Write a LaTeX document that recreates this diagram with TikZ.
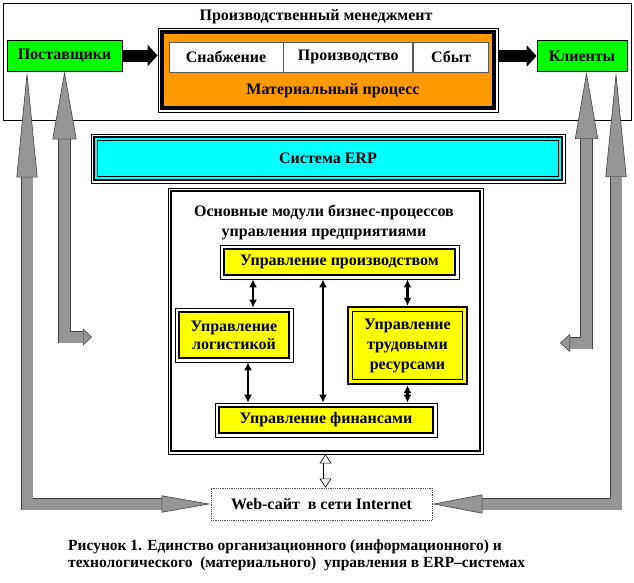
\documentclass[tikz,border=0pt]{standalone}
\usepackage{fontspec}
\setmainfont{Liberation Serif}
\usetikzlibrary{arrows.meta,positioning}
\definecolor{procorange}{RGB}{255,153,0}
\definecolor{erpcyan}{RGB}{0,255,255}
\definecolor{boxyellow}{RGB}{255,255,0}
\definecolor{boxgreen}{RGB}{0,255,0}
\definecolor{arrowgray}{RGB}{150,150,150}

\begin{document}
\begin{tikzpicture}[x=1pt,y=-1pt,font=\fontsize{16}{18}\selectfont\bfseries]
  \tikzset{dbl frame/.style n args={3}{draw,line width=0.8pt,fill=white,
      path picture={\draw[line width=#2,fill=#1]
        ([shift={(#3,-#3)}]path picture bounding box.north west) rectangle
        ([shift={(-#3,#3)}]path picture bounding box.south east);}},
    thick thin/.style={draw,line width=2.4pt,fill=boxyellow,
      path picture={\draw[line width=0.8pt]
        ([shift={(4.5pt,-4.5pt)}]path picture bounding box.north west) rectangle
        ([shift={(-4.5pt,4.5pt)}]path picture bounding box.south east);}},
    erp box/.style={draw,line width=0.8pt,fill=white,
      path picture={\draw[line width=2.4pt,fill=erpcyan]
          ([shift={(3.2pt,-3.2pt)}]path picture bounding box.north west) rectangle
          ([shift={(-3.2pt,3.2pt)}]path picture bounding box.south east);
        \draw[line width=0.8pt]
          ([shift={(6.6pt,-6.6pt)}]path picture bounding box.north west) rectangle
          ([shift={(-6.6pt,6.6pt)}]path picture bounding box.south east);}},
    green box/.style={draw,line width=0.8pt,fill=boxgreen,minimum height=31pt},
    white box/.style={draw=black!65,line width=0.8pt,fill=white,minimum height=30pt,inner sep=0pt},
    fat arrow/.style={line width=12pt,arrows={-Triangle[length=10pt,width=21pt]}},
    link/.style={line width=2.2pt,arrows={Latex[length=8pt,width=8pt]-Latex[length=8pt,width=8pt]}},
    hollow arrow/.style={draw=white,line width=4pt,
      arrows={Triangle[length=9pt,width=12pt,fill=white,color=black,line width=0.6pt]-Triangle[length=9pt,width=12pt,fill=white,color=black,line width=0.6pt]},
      preaction={draw=black,line width=5.2pt,-,shorten <=9pt,shorten >=9pt}},
    block arrow/.style n args={4}{draw=arrowgray,line width=11pt,
      arrows={Triangle[length=#1,width=#2,fill=arrowgray,color=black!75,line width=0.6pt]-Triangle[length=#3,width=#4,fill=arrowgray,color=black!75,line width=0.6pt]},
      preaction={draw=black!75,line width=12.2pt,-,shorten <=#1,shorten >=#3}}}
  \useasboundingbox (0,0) rectangle (634,582);

  % production management
  \node (mgmt) [draw,line width=0.8pt,minimum width=628pt,minimum height=117pt] at (317,61.5) {};
  \node (mgmt title) at (316,17) {Производственный менеджмент};
  \node (proc) [dbl frame={procorange}{4pt}{4pt},minimum width=340pt,minimum height=84pt] at (328,70) {};
  \node (supply) [white box,minimum width=114pt] at (226,57) {Снабжение};
  \node (make) [white box,minimum width=129pt,right=0pt of supply] {Производство};
  \node (sale) [white box,minimum width=75pt,right=0pt of make] {Сбыт};
  \node (mat) at (333,91) {Материальный процесс};
  \node (sup) [green box,minimum width=115pt] at (64.5,55.5) {Поставщики};
  \node (cli) [green box,minimum width=90pt] at (582,56) {Клиенты};
  \draw[fat arrow] (sup.east) -- (sup.east -| proc.west);
  \draw[fat arrow] (proc.east |- cli.west) -- (cli.west);

  % ERP
  \node (erp) [erp box,minimum width=474pt,minimum height=49pt] at (328,158.5) {Система ERP};

  % modules
  \node (mods) [dbl frame={white}{2pt}{3pt},minimum width=315pt,minimum height=266pt] at (325.5,321) {};
  \node (mods title) [align=center,font=\fontsize{16}{20}\selectfont\bfseries] at (324,222)
    {Основные модули бизнес-процессов\\управления предприятиями};
  \node (prodm) [dbl frame={boxyellow}{2.4pt}{4pt},minimum width=239pt,minimum height=34pt] at (339.5,262) {Управление производством};
  \node (logm) [dbl frame={boxyellow}{2.4pt}{4pt},minimum width=118pt,minimum height=54pt,align=center] at (234,335) {Управление\\логистикой};
  \node (hrm) [thick thin,minimum width=119pt,minimum height=77pt,align=center,font=\fontsize{16}{20}\selectfont\bfseries] at (407.5,345.5) {Управление\\трудовыми\\ресурсами};
  \node (finm) [dbl frame={boxyellow}{2.4pt}{4pt},minimum width=222pt,minimum height=34pt] at (326,420) {Управление финансами};
  \draw[link] ([xshift=19pt]logm.north) -- ([xshift=19pt]logm.north |- prodm.south);
  \draw[link] ([xshift=-3pt]finm.north) -- ([xshift=-3pt]finm.north |- prodm.south);
  \draw[link] (hrm.north) -- (hrm.north |- prodm.south);
  \draw[link] ([xshift=14pt]logm.south) -- ([xshift=14pt]logm.south |- finm.north);
  \draw[link] (hrm.south) -- (hrm.south |- finm.north);

  % web site
  \node (web) [draw=black!70,densely dotted,line width=0.8pt,minimum width=221pt,minimum height=32pt] at (321.5,504) {Web-сайт\ \ в сети Internet};
  \draw[hollow arrow] (mods.south) -- (mods.south |- web.north);

  % grey block arrows
  \coordinate (li end) at (92,337);
  \coordinate (ri end) at (560,343);
  \draw[block arrow={49pt}{17pt}{106pt}{21pt}] (web.west) -| ([xshift=-37.5pt]sup.south);
  \draw[block arrow={9pt}{17pt}{68pt}{24pt}] (li end) -| (sup.south);
  \draw[block arrow={10pt}{18pt}{67pt}{23pt}] (ri end) -| ([xshift=4.5pt]cli.south);
  \draw[block arrow={50pt}{19pt}{105pt}{21pt}] (web.east) -| ([xshift=34pt]cli.south);

  \node (caption) [anchor=north west,align=left,inner sep=0pt,font=\fontsize{15.5}{17}\selectfont\bfseries] at (68,540)
    {Рисунок 1. Единство организационного (информационного) и\\технологического\ \ (материального)\ \ управления в ERP–системах};
\end{tikzpicture}
\end{document}
